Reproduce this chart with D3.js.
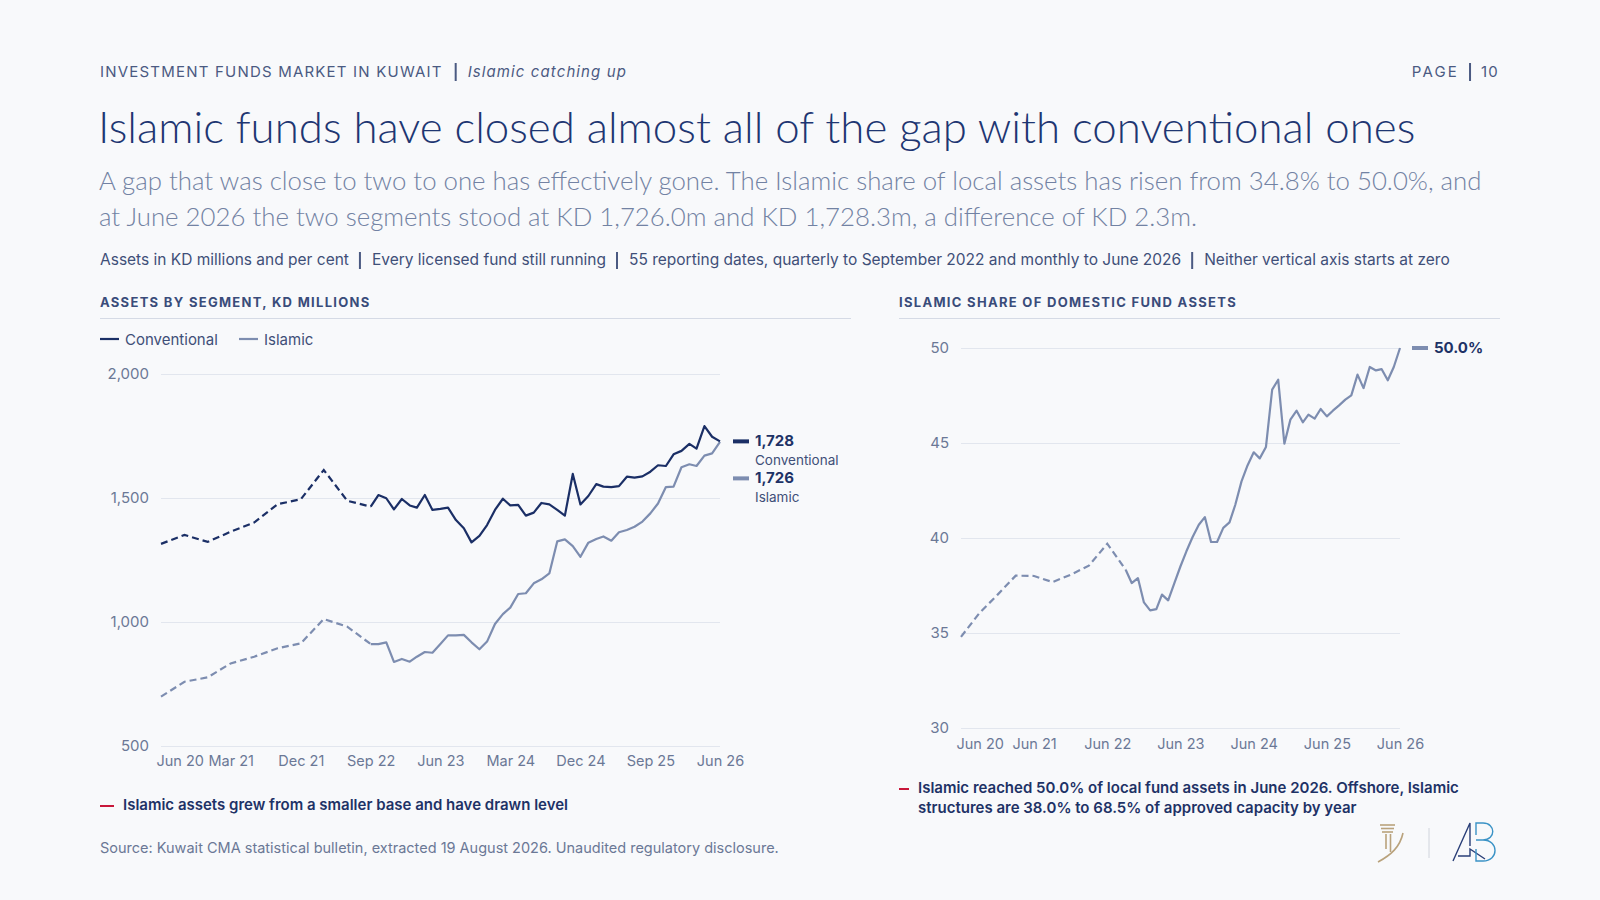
<!DOCTYPE html>
<html>
<head>
<meta charset="utf-8">
<script src="https://cdn.jsdelivr.net/npm/d3@7/dist/d3.min.js"></script>
<style>
  body { margin: 0; background: #f8f9fb; }
  svg { display: block; font-family: Inter, "Noto Sans", sans-serif; }
</style>
</head>
<body>
<svg id="page" width="1600" height="900"></svg>
<script>
// reporting dates: quarterly to Sep 2022, monthly to Jun 2026
const dates = [
  "2020-06","2020-09","2020-12","2021-03","2021-06","2021-09","2021-12","2022-03","2022-06","2022-09",
  "2022-10","2022-11","2022-12",
  "2023-01","2023-02","2023-03","2023-04","2023-05","2023-06","2023-07","2023-08","2023-09","2023-10","2023-11","2023-12",
  "2024-01","2024-02","2024-03","2024-04","2024-05","2024-06","2024-07","2024-08","2024-09","2024-10","2024-11","2024-12",
  "2025-01","2025-02","2025-03","2025-04","2025-05","2025-06","2025-07","2025-08","2025-09","2025-10","2025-11","2025-12",
  "2026-01","2026-02","2026-03","2026-04","2026-05","2026-06"
];

// KD millions
const conventional = [
  1315, 1351, 1323, 1364, 1401, 1475, 1495, 1613, 1489, 1465,
  1512, 1499, 1454,
  1496, 1470, 1461, 1512, 1452, 1456, 1461, 1411, 1378, 1321, 1347, 1391,
  1452, 1497, 1470, 1472, 1429, 1441, 1480, 1474, 1452, 1429, 1597, 1474,
  1508, 1556, 1546, 1544, 1548, 1586, 1582, 1587, 1606, 1632, 1629, 1676,
  1690, 1718, 1699, 1790, 1747, 1728.3
];

const islamic = [
  699, 759, 777, 833, 860, 894, 914, 1012, 981, 911,
  911, 918, 839,
  851, 840, 860, 879, 876, 911, 946, 946, 948, 918, 890, 921,
  992, 1032, 1058, 1113, 1116, 1156, 1172, 1196, 1325, 1333, 1306, 1263,
  1320, 1335, 1345, 1328, 1362, 1371, 1384, 1405, 1438, 1478, 1544, 1546,
  1624, 1636, 1629, 1671, 1680, 1726.0
];

// per cent of domestic fund assets
const islamicShare = [
  34.8, 36.05, 37.02, 38.02, 38.0, 37.68, 38.07, 38.54, 39.7, 38.33,
  37.63, 37.89, 36.61,
  36.19, 36.26, 37.02, 36.72, 37.6, 38.5, 39.3, 40.05, 40.7, 41.1, 39.79, 39.79,
  40.53, 40.82, 41.75, 42.98, 43.82, 44.51, 44.19, 44.79, 47.81, 48.33, 44.96, 46.23,
  46.70, 46.09, 46.49, 46.28, 46.79, 46.40, 46.70, 46.98, 47.28, 47.51, 48.60, 47.89,
  49.0, 48.82, 48.89, 48.30, 49.0, 50.0
];

const assetXTicks = ["2020-06","2021-03","2021-12","2022-09","2023-06","2024-03","2024-12","2025-09","2026-06"];
const shareXTicks = ["2020-06","2021-06","2022-06","2023-06","2024-06","2025-06","2026-06"];
const assetYTicks = [500, 1000, 1500, 2000];
const shareYTicks = [30, 35, 40, 45, 50];

const lastQuarterly = 9; // Sep 2022, after this the series is monthly

const navy = "#1b2f66";
const slate = "#7d8db0";
const red = "#c8173a";
const ink = "#1e3266";
const muted = "#6b7896";

const parse = d3.utcParse("%Y-%m");
const fmtTick = d3.utcFormat("%b %y");
const dateValues = dates.map(parse);

const svg = d3.select("#page");
svg.append("rect").attr("width", 1600).attr("height", 900).attr("fill", "#f8f9fb");

// ---------- header ----------
function separator(x, y, h) {
    svg.append("rect").attr("x", x).attr("y", y).attr("width", 2).attr("height", h).attr("fill", "#4b5a82");
}

let head = svg.append("text")
    .attr("x", 100).attr("y", 77)
    .attr("font-size", 15).attr("letter-spacing", 1.2)
    .attr("fill", "#4b5a82")
    .text("INVESTMENT FUNDS MARKET IN KUWAIT");
let hx = 100 + head.node().getComputedTextLength() + 12;
separator(hx, 63, 18);
svg.append("text")
    .attr("x", hx + 13).attr("y", 77)
    .attr("font-size", 15).attr("font-style", "italic").attr("letter-spacing", 1.1)
    .attr("fill", "#4b5a82")
    .text("Islamic catching up");

let pageNo = svg.append("text")
    .attr("x", 1499).attr("y", 77).attr("text-anchor", "end")
    .attr("font-size", 15).attr("letter-spacing", 1.2).attr("fill", "#4b5a82")
    .text("10");
let px = 1499 - pageNo.node().getComputedTextLength() - 12;
separator(px, 63, 18);
svg.append("text")
    .attr("x", px - 10).attr("y", 77).attr("text-anchor", "end")
    .attr("font-size", 15).attr("letter-spacing", 2.2).attr("fill", "#4b5a82")
    .text("PAGE");

svg.append("text")
    .attr("x", 98).attr("y", 143)
    .attr("font-family", "Lato, 'Open Sans', sans-serif").attr("font-weight", 300)
    .attr("font-size", 43.8).attr("fill", "#1e3672")
    .text("Islamic funds have closed almost all of the gap with conventional ones");

let sub = svg.append("text")
    .attr("font-family", "Lato, 'Open Sans', sans-serif").attr("font-weight", 300)
    .attr("font-size", 25.8).attr("fill", "#7282a3");
sub.append("tspan").attr("x", 99).attr("y", 190)
    .text("A gap that was close to two to one has effectively gone. The Islamic share of local assets has risen from 34.8% to 50.0%, and");
sub.append("tspan").attr("x", 99).attr("y", 226)
    .text("at June 2026 the two segments stood at KD 1,726.0m and KD 1,728.3m, a difference of KD 2.3m.");

// notes line with bar separators
const notes = [
    "Assets in KD millions and per cent",
    "Every licensed fund still running",
    "55 reporting dates, quarterly to September 2022 and monthly to June 2026",
    "Neither vertical axis starts at zero"
];
let nx = 100;
notes.forEach((t, i) => {
    if (i > 0) {
        separator(nx + 10, 252, 17);
        nx += 23;
    }
    let n = svg.append("text")
        .attr("x", nx).attr("y", 265)
        .attr("font-size", 15.5).attr("fill", "#3f4f78")
        .text(t);
    nx += n.node().getComputedTextLength();
});

// ---------- panel helpers ----------
function panelTitle(x, x2, label) {
    svg.append("text")
        .attr("x", x).attr("y", 307)
        .attr("font-size", 13).attr("font-weight", 700)
        .attr("letter-spacing", 1.3).attr("fill", "#3a4c7a")
        .text(label);
    svg.append("line")
        .attr("x1", x).attr("x2", x2).attr("y1", 318.5).attr("y2", 318.5)
        .attr("stroke", "#d5dae5");
}

function drawAxes(g, x, y, xTicks, yTicks, yFormat, labelY) {
    let yAxis = d3.axisLeft(y)
        .tickValues(yTicks)
        .tickFormat(yFormat)
        .tickSize(-(x.range()[1] - x.range()[0]))
        .tickPadding(12);
    let ya = g.append("g")
        .attr("transform", `translate(${x.range()[0]},0)`)
        .call(yAxis);
    ya.select(".domain").remove();
    ya.selectAll("line").attr("stroke", "#e2e6ee");
    ya.selectAll("text").attr("fill", muted).attr("font-size", 15).attr("font-family", "Inter, sans-serif");

    let xAxis = d3.axisBottom(x)
        .tickValues(xTicks.map(parse))
        .tickFormat(fmtTick)
        .tickSize(0)
        .tickPadding(labelY - y.range()[0]);
    let xa = g.append("g")
        .attr("transform", `translate(0,${y.range()[0]})`)
        .call(xAxis);
    xa.select(".domain").remove();
    xa.selectAll("text")
        .attr("fill", muted).attr("font-size", 14.5).attr("font-family", "Inter, sans-serif")
        .attr("dy", "0em");
    // keep the first label inside the plot
    xa.selectAll("text").filter((d, i) => i === 0)
        .attr("text-anchor", "start").attr("dx", -5);
}

function drawSeries(g, x, y, values, color) {
    let pts = values.map((v, i) => ({ date: dateValues[i], value: v }));
    let line = d3.line().x(d => x(d.date)).y(d => y(d.value));
    g.append("path")
        .datum(pts.slice(0, lastQuarterly + 1))
        .attr("d", line)
        .attr("fill", "none").attr("stroke", color).attr("stroke-width", 2.2)
        .attr("stroke-dasharray", "7,4");
    g.append("path")
        .datum(pts.slice(lastQuarterly))
        .attr("d", line)
        .attr("fill", "none").attr("stroke", color).attr("stroke-width", 2.2)
        .attr("stroke-linejoin", "round");
}

function endLabel(g, x, yPos, color, value, name) {
    g.append("rect")
        .attr("x", x).attr("y", yPos - 2).attr("width", 16).attr("height", 4)
        .attr("fill", color);
    g.append("text")
        .attr("x", x + 22).attr("y", yPos + 5)
        .attr("font-size", 15).attr("font-weight", 700).attr("fill", ink)
        .text(value);
    if (name) {
        g.append("text")
            .attr("x", x + 22).attr("y", yPos + 24)
            .attr("font-size", 13.5).attr("fill", "#3f4f78")
            .text(name);
    }
}

function footnote(x, y, lines, dashW) {
    svg.append("rect")
        .attr("x", x).attr("y", y - 5).attr("width", dashW).attr("height", 2)
        .attr("fill", red);
    let t = svg.append("text")
        .attr("font-size", 15).attr("font-weight", 600).attr("fill", ink);
    lines.forEach((l, i) => {
        t.append("tspan").attr("x", x + dashW + 9).attr("y", y + i * 20).text(l);
    });
}

// ---------- left: assets by segment ----------
panelTitle(100, 851, "ASSETS BY SEGMENT, KD MILLIONS");

let legend = svg.append("g");
[["Conventional", navy, 100], ["Islamic", slate, 239]].forEach(([name, color, lx]) => {
    legend.append("line")
        .attr("x1", lx).attr("x2", lx + 19).attr("y1", 339).attr("y2", 339)
        .attr("stroke", color).attr("stroke-width", 2.2);
    legend.append("text")
        .attr("x", lx + 25).attr("y", 344.5)
        .attr("font-size", 15).attr("fill", "#3f4f78")
        .text(name);
});

let assetX = d3.scaleUtc().domain([parse("2020-06"), parse("2026-06")]).range([161, 720]);
let assetY = d3.scaleLinear().domain([500, 2000]).range([746, 374]);
let left = svg.append("g");
drawAxes(left, assetX, assetY, assetXTicks, assetYTicks, d3.format(","), 766);
drawSeries(left, assetX, assetY, islamic, slate);
drawSeries(left, assetX, assetY, conventional, navy);

let convEnd = assetY(conventional[conventional.length - 1]);
let islEnd = Math.max(assetY(islamic[islamic.length - 1]), convEnd + 37);
endLabel(left, 733, convEnd, navy, d3.format(",.0f")(conventional[conventional.length - 1]), "Conventional");
endLabel(left, 733, islEnd, slate, d3.format(",.0f")(islamic[islamic.length - 1]), "Islamic");

footnote(100, 810, ["Islamic assets grew from a smaller base and have drawn level"], 14);

// ---------- right: Islamic share ----------
panelTitle(899, 1500, "ISLAMIC SHARE OF DOMESTIC FUND ASSETS");

let shareX = d3.scaleUtc().domain([parse("2020-06"), parse("2026-06")]).range([961, 1400]);
let shareY = d3.scaleLinear().domain([30, 50]).range([728, 348]);
let right = svg.append("g");
drawAxes(right, shareX, shareY, shareXTicks, shareYTicks, d3.format("d"), 749);
drawSeries(right, shareX, shareY, islamicShare, slate);
endLabel(right, 1412, shareY(islamicShare[islamicShare.length - 1]), slate,
    d3.format(".1f")(islamicShare[islamicShare.length - 1]) + "%", null);

footnote(899, 793, [
    "Islamic reached 50.0% of local fund assets in June 2026. Offshore, Islamic",
    "structures are 38.0% to 68.5% of approved capacity by year"
], 10);

// ---------- source ----------
svg.append("text")
    .attr("x", 100).attr("y", 853)
    .attr("font-size", 14.5).attr("fill", muted)
    .text("Source: Kuwait CMA statistical bulletin, extracted 19 August 2026. Unaudited regulatory disclosure.");

// ---------- logos ----------
let gold = svg.append("g").attr("fill", "none").attr("stroke", "#b9a27c").attr("stroke-width", 1.6);
[[1380, 1395, 825], [1381, 1394, 828.5], [1382, 1393, 832]].forEach(([a, b, yy]) => {
    gold.append("line").attr("x1", a).attr("x2", b).attr("y1", yy).attr("y2", yy);
});
gold.append("line").attr("x1", 1386).attr("x2", 1386).attr("y1", 834).attr("y2", 849);
gold.append("line").attr("x1", 1390.5).attr("x2", 1390.5).attr("y1", 834).attr("y2", 852);
gold.append("path").attr("d", "M1403,833 C1400,847 1391,855 1378,862");

svg.append("line")
    .attr("x1", 1429).attr("x2", 1429).attr("y1", 828).attr("y2", 858)
    .attr("stroke", "#d0d4dc");

let ab = svg.append("g").attr("fill", "none").attr("stroke-width", 1.4);
ab.append("path").attr("stroke", "#2a3f78")
    .attr("d", "M1453,861 L1470,823 L1470,846 M1458,856 L1470,856 L1470,849 L1485,859");
ab.append("path").attr("stroke", "#3b93c6")
    .attr("d", "M1476,835 L1476,823 L1483,823 C1496,823 1496,840 1483,840 L1476,840 M1483,840 C1499,840 1499,861 1483,861 L1476,861 L1476,849");
</script>
</body>
</html>
